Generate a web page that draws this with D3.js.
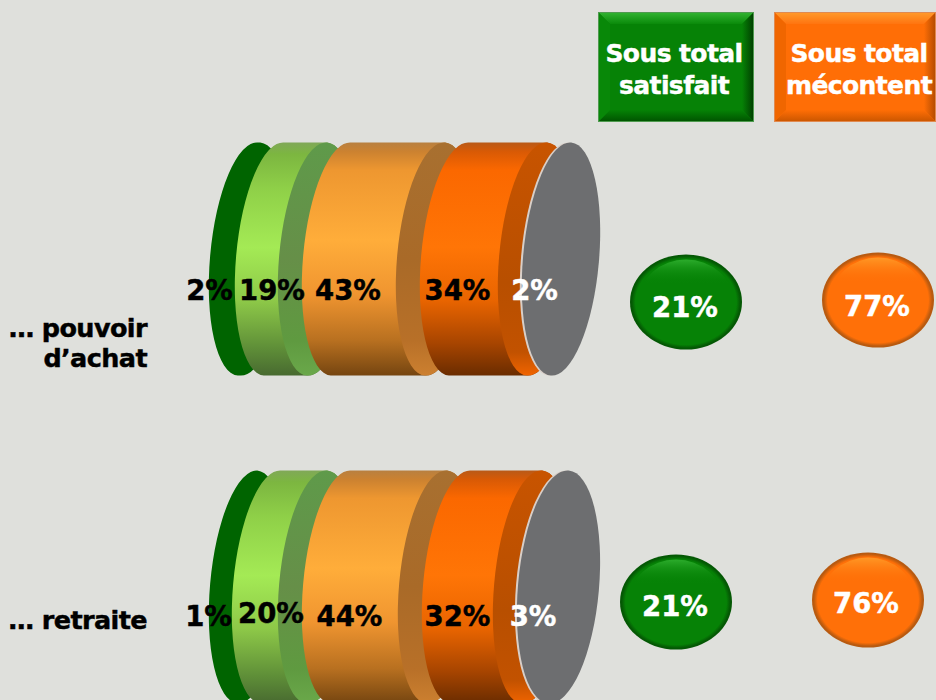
<!DOCTYPE html>
<html><head><meta charset="utf-8">
<script src="https://cdnjs.cloudflare.com/ajax/libs/d3/7.8.5/d3.min.js"></script>
<style>
html,body{margin:0;padding:0;background:#dfe0dc;overflow:hidden}
text{font-family:"DejaVu Sans",sans-serif;font-weight:700;stroke-width:.45px;paint-order:stroke}
</style></head><body>
<svg id="c" width="936" height="700"></svg>
<script>
const rowLines = [["… pouvoir","d’achat"],["… retraite"]];
const seriesValuesRow1 = [2,19,43,34,2];
const seriesValuesRow2 = [1,20,44,32,3];
const satisfait = [21,21];
const mecontent = [77,76];
const headers = [["Sous total","satisfait"],["Sous total","mécontent"]];

const W=936,H=700;
const svg=d3.select("#c").attr("viewBox",`0 0 ${W} ${H}`);
svg.append("rect").attr("width",W).attr("height",H).attr("fill","#dfe0dc");
const defs=svg.append("defs");
function lin(id,stops,dir="v"){
  const v={v:[0,0,0,1],r:[0,0,1,0]}[dir];
  const g=defs.append("linearGradient").attr("id",id).attr("x1",v[0]).attr("y1",v[1]).attr("x2",v[2]).attr("y2",v[3]);
  stops.forEach(s=>g.append("stop").attr("offset",s[0]).attr("stop-color",s[1]).attr("stop-opacity",s[2]===undefined?1:s[2]));
}
lin("bLight",[[0,"#80a858"],[.05,"#7cb640"],[.2,"#8fd048"],[.45,"#a4ea55"],[.68,"#8dc848"],[.88,"#5f8f38"],[1,"#486a30"]]);
lin("bOrange",[[0,"#b88040"],[.04,"#cc8230"],[.12,"#ee9730"],[.42,"#ffad3a"],[.65,"#f09530"],[.85,"#b87020"],[1,"#754510"]]);
lin("bDark",[[0,"#b85a18"],[.04,"#d95a05"],[.12,"#fb6800"],[.45,"#ff7506"],[.68,"#e86400"],[.86,"#a84500"],[1,"#6a2c00"]]);
lin("cGreen",[[0,"#006400"],[1,"#006400"]]);
lin("cMid",[[0,"#5f9a4a"],[.5,"#668f48"],[.85,"#5f9a40"],[1,"#6aa84a"]]);
lin("cTan",[[0,"#a87030"],[.5,"#a96a28"],[.85,"#b87028"],[1,"#cc8030"]]);
lin("cBrown",[[0,"#c85400"],[.6,"#b84f00"],[.9,"#c25200"],[1,"#f06400"]]);

const tilt=5, tiltR=tilt*Math.PI/180;
function axisEnds(c,cy,ry){
  const dx=ry*Math.sin(tiltR),dy=ry*Math.cos(tiltR);
  return {top:[c+dx,cy-dy],bot:[c-dx,cy+dy]};
}
function bandPath(c0,c1,cy,rx,ry){
  const a=axisEnds(c0,cy,ry),b=axisEnds(c1,cy,ry);
  return `M${a.top}A${rx} ${ry} ${tilt} 0 0 ${a.bot}L${b.bot}A${rx} ${ry} ${tilt} 0 0 ${b.top}Z`;
}
const bodyFill=["cGreen","bLight","bOrange","bDark"];
const capFill=[null,"cMid","cTan","cBrown"];

function drawCylinder(values,edges,cy,labelBase,labelCx,labelColors){
  let cum=0; const cums=[0]; values.forEach(v=>{cum+=v;cums.push(cum)});
  const x=d3.scaleLinear().domain(cums).range(edges);
  const rx=38, ry=117, capW=24, notch=24;
  const g=svg.append("g");
  const segs=values.slice(0,4).map((v,i)=>({i,x0:x(cums[i]),x1:x(cums[i+1])}));
  g.selectAll(null).data(segs).join(enter=>{
    const s=enter.append("g");
    s.append("path").attr("d",d=>bandPath(d.x0+rx+1,d.x1+rx+1-notch,cy,rx,ry)).attr("fill",d=>`url(#${bodyFill[d.i]})`);
    s.filter(d=>capFill[d.i]).append("path").attr("d",d=>bandPath(d.x1-capW+rx+1,d.x1+rx+1-notch,cy,rx,ry)).attr("fill",d=>`url(#${capFill[d.i]})`);
    return s;
  });
  const gx0=x(cums[4]), gx1=x(cums[5]);
  const grx=(gx1-gx0)/2-1, gc=(gx0+gx1)/2;
  const ell=(sel,c,fill)=>sel.append("ellipse").attr("cx",0).attr("cy",0).attr("rx",grx).attr("ry",ry)
    .attr("transform",`translate(${c},${cy}) rotate(${tilt})`).attr("fill",fill);
  ell(g,gc-2,"#d9cfc8");
  ell(g,gc,"#6d6e70");
  svg.selectAll(null).data(values).join("text")
    .attr("x",(d,i)=>labelCx[i]).attr("y",(d,i)=>labelBase[i]).attr("text-anchor","middle")
    .attr("font-size",27.5).attr("fill",(d,i)=>labelColors[i]).attr("stroke",(d,i)=>labelColors[i]).text(d=>d+"%");
}
const lc=["#000","#000","#000","#000","#fff"];
drawCylinder(seriesValuesRow1,[209,235,302,420,522,600],259,[300,300,300,300,300],[209.5,272,348,457.5,534.5],lc);
drawCylinder(seriesValuesRow2,[209,232,302,422,517,600],587,[626,623,626,626,626],[208.5,271,349.5,457.5,533],lc);

const rowText=(t,y)=>svg.append("text").attr("x",147).attr("y",y).attr("text-anchor","end").attr("font-size",25.5).attr("letter-spacing","-0.6px").attr("fill","#000").attr("stroke","#000").text(t);
rowLines[0].forEach((t,i)=>rowText(t,337+i*30));
rowLines[1].forEach(t=>rowText(t,629));

function box(id,x,y,w,h,b,c,lines,tx){
  const g=svg.append("g");
  lin(id+"T",[[0,c.top],[1,c.topEnd]],"v");
  lin(id+"R",[[0,c.main],[1,c.right]],"r");
  lin(id+"B",[[0,c.main],[1,c.bottom]],"v");
  const p=(pts,f)=>g.append("path").attr("d",d3.line()(pts)+"Z").attr("fill",f);
  g.append("rect").attr("x",x).attr("y",y).attr("width",w).attr("height",h).attr("fill",c.main);
  p([[x,y],[x+w,y],[x+w-b,y+b],[x+b,y+b]],`url(#${id}T)`);
  p([[x+w,y],[x+w,y+h],[x+w-b,y+h-b],[x+w-b,y+b]],`url(#${id}R)`);
  p([[x,y+h],[x+w,y+h],[x+w-b,y+h-b],[x+b,y+h-b]],`url(#${id}B)`);
  p([[x,y],[x,y+h],[x+b,y+h-b],[x+b,y+b]],c.left);
  g.append("rect").attr("x",x+.5).attr("y",y+.5).attr("width",w-1).attr("height",h-1).attr("fill","none").attr("stroke",c.rim).attr("stroke-width",1);
  lines.forEach((t,i)=>g.append("text").attr("x",tx).attr("y",62+i*32).attr("text-anchor","middle").attr("font-size",25).attr("letter-spacing","-0.6px").attr("fill","#fff").attr("stroke","#fff").text(t));
}
box("g",598,12,156,110,12,{main:"#068206",top:"#33b533",topEnd:"#0a8a0a",right:"#003c00",bottom:"#005200",left:"#088808",rim:"#4f9a4f"},headers[0],674);
box("o",774,12,162,110,12,{main:"#ff6e06",top:"#ff9c2c",topEnd:"#ff7410",right:"#b04a00",bottom:"#c85500",left:"#f06600",rim:"#e08a50"},headers[1],859);

function radial(id,main,edge){
  const g=defs.append("radialGradient").attr("id",id).attr("cx",.5).attr("cy",.5).attr("r",.5);
  [[0,main],[.9,main],[.97,edge],[1,edge]].forEach(s=>g.append("stop").attr("offset",s[0]).attr("stop-color",s[1]));
}
radial("gGreen","#068206","#045804");
radial("gOrange","#ff7008","#b85a10");
lin("hGreen",[[0,"#30b030",.9],[.14,"#20a020",.35],[.3,"#068206",0]]);
lin("hOrange",[[0,"#ff9c28",.9],[.14,"#ff9020",.35],[.3,"#ff7008",0]]);
function bubble(cx,cy,v,fill,hl,tx,ty){
  const rx=56,ry=47.5;
  svg.append("ellipse").attr("cx",cx).attr("cy",cy).attr("rx",rx).attr("ry",ry).attr("fill",`url(#${fill})`);
  svg.append("ellipse").attr("cx",cx).attr("cy",cy-1).attr("rx",rx-9).attr("ry",ry-6).attr("fill",`url(#${hl})`);
  svg.append("text").attr("x",tx).attr("y",ty).attr("text-anchor","middle").attr("font-size",27.5).attr("fill","#fff").attr("stroke","#fff").text(v+"%");
}
bubble(686,302,satisfait[0],"gGreen","hGreen",685,317);
bubble(878,300,mecontent[0],"gOrange","hOrange",877,316);
bubble(676,602,satisfait[1],"gGreen","hGreen",675,616);
bubble(868,600,mecontent[1],"gOrange","hOrange",866,613);
</script></body></html>
